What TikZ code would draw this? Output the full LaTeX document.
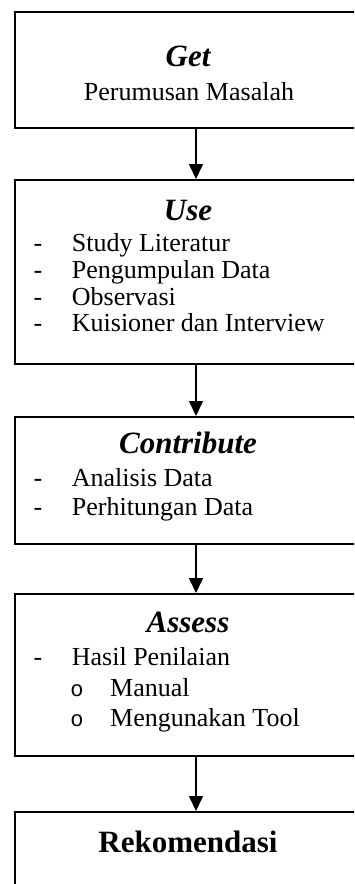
\documentclass[tikz,border=0pt]{standalone}
\usepackage{fontspec}
\setmainfont{Liberation Serif}
\newfontfamily\monof{Liberation Mono}
\usetikzlibrary{arrows.meta}
\begin{document}
\begin{tikzpicture}[x=1pt,y=-1pt,
  box/.style={draw, line width=2pt, rectangle, minimum width=363pt, anchor=north west, inner sep=0pt},
  arr/.style={line width=1.6pt, -{Triangle[width=14pt,length=15pt]}},
  ttl/.style={anchor=base, font=\fontsize{31}{31}\selectfont\bfseries\itshape, inner sep=0pt},
  txt/.style={anchor=base west, font=\fontsize{26}{26}\selectfont, inner sep=0pt},
  ctr/.style={anchor=base, font=\fontsize{26}{26}\selectfont, inner sep=0pt},
  dsh/.style={anchor=base, font=\fontsize{26}{26}\selectfont, inner sep=0pt},
  bul/.style={anchor=base, font=\fontsize{22}{22}\monof, inner sep=0pt},
]
\useasboundingbox (0,0) rectangle (354,884);
\clip (0,0) rectangle (354,884);
% boxes
\node[box, minimum height=116pt] (b1) at (13.5,11) {};
\node[box, minimum height=184pt] (b2) at (13.5,179) {};
\node[box, minimum height=127pt] (b3) at (13.5,416) {};
\node[box, minimum height=162pt] (b4) at (13.5,593) {};
\node[box, minimum height=110pt] (b5) at (13.5,811) {};
% arrows
\draw[arr] (b1) -- (b2);
\draw[arr] (b2) -- (b3);
\draw[arr] (b3) -- (b4);
\draw[arr] (b4) -- (b5);
% box 1
\node[ttl] (t1) at (188,66) {Get};
\node[ctr] (p1) at (189,100) {Perumusan Masalah};
% box 2
\node[ttl] (t2) at (188,220) {Use};
\node[dsh] (d21) at (38,251.7) {-};
\node[txt] (l21) at (71.7,251.7) {Study Literatur};
\node[dsh] (d22) at (38,278.3) {-};
\node[txt] (l22) at (71.7,278.3) {Pengumpulan Data};
\node[dsh] (d23) at (38,305) {-};
\node[txt] (l23) at (71.7,305) {Observasi};
\node[dsh] (d24) at (38,331.7) {-};
\node[txt] (l24) at (71.7,331.7) {Kuisioner dan Interview};
% box 3
\node[ttl] (t3) at (188,453.3) {Contribute};
\node[dsh] (d31) at (38,486.7) {-};
\node[txt] (l31) at (71.7,486.7) {Analisis Data};
\node[dsh] (d32) at (38,515) {-};
\node[txt] (l32) at (71.7,515) {Perhitungan Data};
% box 4
\node[ttl] (t4) at (188,632.7) {Assess};
\node[dsh] (d41) at (38,665) {-};
\node[txt] (l41) at (71.7,665) {Hasil Penilaian};
\node[bul] (o41) at (77,696.7) {o};
\node[txt] (l42) at (110,696.7) {Manual};
\node[bul] (o42) at (77,726) {o};
\node[txt] (l43) at (110,726) {Mengunakan Tool};
% box 5
\node[anchor=base, font=\fontsize{31}{31}\selectfont\bfseries, inner sep=0pt] (r5) at (188,852) {Rekomendasi};
\end{tikzpicture}
\end{document}
